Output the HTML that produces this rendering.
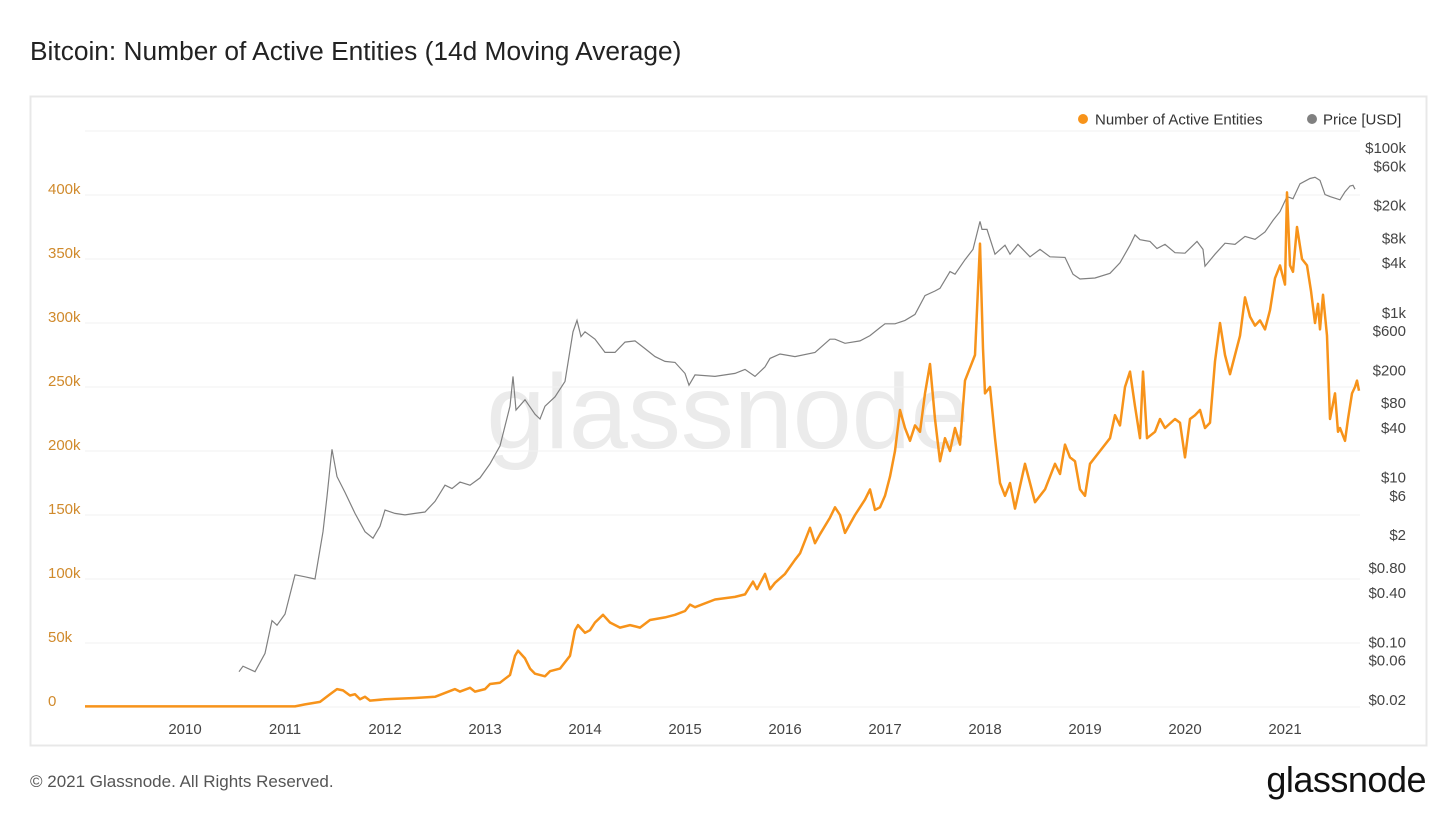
<!DOCTYPE html>
<html><head><meta charset="utf-8">
<style>
body{margin:0;width:1456px;height:819px;background:#fff;font-family:"Liberation Sans",sans-serif;overflow:hidden;position:relative}
</style></head><body>
<div style="position:absolute;left:30px;top:36px;font-size:26.3px;color:#222">Bitcoin: Number of Active Entities (14d Moving Average)</div>
<svg id="c" width="1456" height="819" style="position:absolute;left:0;top:0">
<rect x="30.5" y="96.5" width="1396" height="649" fill="none" stroke="#e8e8e8" stroke-width="2"/>
<text x="728" y="448" text-anchor="middle" font-size="106" fill="#ebebeb" font-family="Liberation Sans, sans-serif">glassnode</text>
<g id="grid"></g><g id="price"></g><g id="ent"></g><g id="labels"></g>
<g>
<circle cx="1083" cy="119" r="5" fill="#f7931a"/>
<text x="1095" y="124.5" font-size="15" fill="#333">Number of Active Entities</text>
<circle cx="1312" cy="119" r="5" fill="#808080"/>
<text x="1323" y="124.5" font-size="15" fill="#333">Price [USD]</text>
</g>
</svg>
<div style="position:absolute;left:30px;top:772px;font-size:17px;color:#555">© 2021 Glassnode. All Rights Reserved.</div>
<div style="position:absolute;right:30px;top:759px;font-size:36px;color:#111;letter-spacing:-0.5px">glassnode</div>
<script>
const entTicks=[0,50,100,150,200,250,300,350,400];
const entTickLabels=["0","50k","100k","150k","200k","250k","300k","350k","400k"];
const yearTicks=[2010,2011,2012,2013,2014,2015,2016,2017,2018,2019,2020,2021];
const priceTicks=[0.02,0.06,0.1,0.4,0.8,2,6,10,40,80,200,600,1000,4000,8000,20000,60000,100000];
const priceTickLabels=["$0.02","$0.06","$0.10","$0.40","$0.80","$2","$6","$10","$40","$80","$200","$600","$1k","$4k","$8k","$20k","$60k","$100k"];
const entDates=[2009.0,2011.1,2011.2,2011.35,2011.45,2011.52,2011.58,2011.65,2011.7,2011.75,2011.8,2011.85,2012.0,2012.3,2012.5,2012.6,2012.7,2012.75,2012.85,2012.9,2013.0,2013.05,2013.15,2013.2,2013.25,2013.3,2013.33,2013.4,2013.45,2013.5,2013.6,2013.65,2013.75,2013.85,2013.9,2013.93,2014.0,2014.05,2014.1,2014.18,2014.25,2014.35,2014.45,2014.55,2014.65,2014.8,2014.9,2015.0,2015.05,2015.1,2015.3,2015.5,2015.6,2015.68,2015.72,2015.8,2015.85,2015.9,2016.0,2016.1,2016.15,2016.25,2016.3,2016.35,2016.45,2016.5,2016.55,2016.6,2016.7,2016.8,2016.85,2016.9,2016.95,2017.0,2017.05,2017.1,2017.15,2017.2,2017.25,2017.3,2017.35,2017.4,2017.45,2017.5,2017.55,2017.6,2017.65,2017.7,2017.75,2017.8,2017.85,2017.9,2017.95,2017.98,2018.0,2018.05,2018.1,2018.15,2018.2,2018.25,2018.3,2018.4,2018.45,2018.5,2018.6,2018.7,2018.75,2018.8,2018.85,2018.9,2018.95,2019.0,2019.05,2019.15,2019.25,2019.3,2019.35,2019.4,2019.45,2019.5,2019.55,2019.58,2019.62,2019.7,2019.75,2019.8,2019.9,2019.95,2020.0,2020.05,2020.1,2020.15,2020.2,2020.25,2020.3,2020.35,2020.4,2020.45,2020.5,2020.55,2020.6,2020.65,2020.7,2020.75,2020.8,2020.85,2020.9,2020.95,2021.0,2021.02,2021.05,2021.08,2021.12,2021.17,2021.22,2021.26,2021.3,2021.33,2021.35,2021.38,2021.42,2021.45,2021.5,2021.53,2021.55,2021.6,2021.63,2021.67,2021.7,2021.72,2021.74];
const entValues=[0.5,0.5,2,4,10,14,13,9,10,6,8,5,6,7,8,11,14,12,15,12,14,18,19,22,25,40,44,38,30,26,24,28,30,40,60,64,58,60,66,72,66,62,64,62,68,70,72,75,80,78,84,86,88,98,92,104,92,97,104,115,120,140,128,135,148,156,150,136,150,162,170,154,156,165,180,200,232,218,208,220,215,245,268,225,192,210,200,218,205,255,265,275,362,280,245,250,210,175,165,175,155,190,175,160,170,190,182,205,195,192,170,165,190,200,210,228,220,250,262,235,210,262,210,215,225,218,225,222,195,225,228,232,218,222,270,300,275,260,275,290,320,305,298,302,295,310,335,345,330,402,345,340,375,350,345,325,300,315,295,322,290,225,245,215,218,208,225,245,250,255,247];
const priceDates=[2010.54,2010.58,2010.7,2010.8,2010.87,2010.92,2011.0,2011.1,2011.2,2011.3,2011.38,2011.42,2011.45,2011.47,2011.52,2011.6,2011.7,2011.8,2011.88,2011.95,2012.0,2012.1,2012.2,2012.3,2012.4,2012.5,2012.6,2012.67,2012.75,2012.85,2012.95,2013.05,2013.15,2013.25,2013.28,2013.31,2013.4,2013.5,2013.55,2013.6,2013.7,2013.8,2013.88,2013.92,2013.96,2014.0,2014.1,2014.2,2014.3,2014.4,2014.5,2014.6,2014.7,2014.8,2014.9,2015.0,2015.04,2015.1,2015.3,2015.5,2015.6,2015.7,2015.8,2015.85,2015.95,2016.1,2016.3,2016.45,2016.5,2016.6,2016.75,2016.85,2016.95,2017.0,2017.1,2017.2,2017.3,2017.4,2017.5,2017.55,2017.65,2017.7,2017.8,2017.88,2017.95,2017.97,2018.02,2018.1,2018.2,2018.25,2018.33,2018.45,2018.55,2018.65,2018.8,2018.88,2018.95,2019.1,2019.25,2019.35,2019.45,2019.5,2019.55,2019.65,2019.72,2019.8,2019.9,2020.0,2020.12,2020.18,2020.2,2020.3,2020.4,2020.5,2020.6,2020.7,2020.8,2020.88,2020.95,2021.02,2021.08,2021.15,2021.25,2021.3,2021.35,2021.4,2021.45,2021.55,2021.6,2021.65,2021.68,2021.7];
const priceValues=[0.06,0.07,0.06,0.1,0.25,0.22,0.3,0.9,0.85,0.8,3,8,18,30,14,9,5,3,2.5,3.5,5.5,5,4.8,5,5.2,7,11,10,12,11,13.5,20,33,100,230,90,120,80,70,100,130,200,800,1100,700,800,650,450,450,600,620,500,400,350,340,250,180,240,230,250,280,230,300,380,430,400,450,650,650,580,620,720,900,1000,1000,1100,1300,2200,2500,2700,4300,4000,6000,8000,17500,14000,14000,7000,9000,7000,9200,6500,8000,6500,6400,4000,3500,3600,4100,5500,9000,12000,10500,10000,8200,9200,7300,7200,10000,8000,5000,7000,9500,9200,11500,10600,13000,18000,23000,35000,33000,50000,58000,60000,55000,37000,35000,32000,40000,47000,48000,43000];

const NS="http://www.w3.org/2000/svg";
const xS=d=>185+(d-2010)*100;
const yE=v=>707-v*64/50;
const yP=p=>711-(Math.log10(p)+1.699)*82.4;
const yPL=p=>700-(Math.log10(p)+1.699)*82.4;
function mk(t,a,p){const e=document.createElementNS(NS,t);for(const k in a)e.setAttribute(k,a[k]);p.appendChild(e);return e;}
const grid=document.getElementById('grid'),labels=document.getElementById('labels');
const topLine=mk('line',{x1:85,x2:1360,y1:131,y2:131,stroke:'#f0f0f0'},grid);


entTicks.forEach((v,i)=>{
  const l=mk('line',{x1:85,x2:1360,y1:yE(v),y2:yE(v),stroke:'#f0f0f0'},grid);
  
  
  const t=mk('text',{x:48,y:yE(v)-1,'font-size':15,fill:'#d08a2c'},labels);
  t.textContent=entTickLabels[i];
  
  
});
yearTicks.forEach(y=>{
  const t=mk('text',{x:xS(y),y:734,'font-size':15,fill:'#444','text-anchor':'middle'},labels);
  t.textContent=y;
  
  
});
priceTicks.forEach((p,i)=>{
  const t=mk('text',{x:1406,y:yPL(p)+5,'font-size':15,fill:'#444','text-anchor':'end'},labels);
  t.textContent=priceTickLabels[i];
  
  
});
let d='';priceDates.forEach((x,i)=>{d+=(i?'L':'M')+xS(x).toFixed(1)+','+yP(priceValues[i]).toFixed(1);});
const pl=mk('path',{d:d,fill:'none',stroke:'#808080','stroke-width':1.2},document.getElementById('price'));


d='';entDates.forEach((x,i)=>{d+=(i?'L':'M')+xS(x).toFixed(1)+','+yE(entValues[i]).toFixed(1);});
const el=mk('path',{d:d,fill:'none',stroke:'#f7931a','stroke-width':2.5,'stroke-linejoin':'round'},document.getElementById('ent'));


</script>
</body></html>
